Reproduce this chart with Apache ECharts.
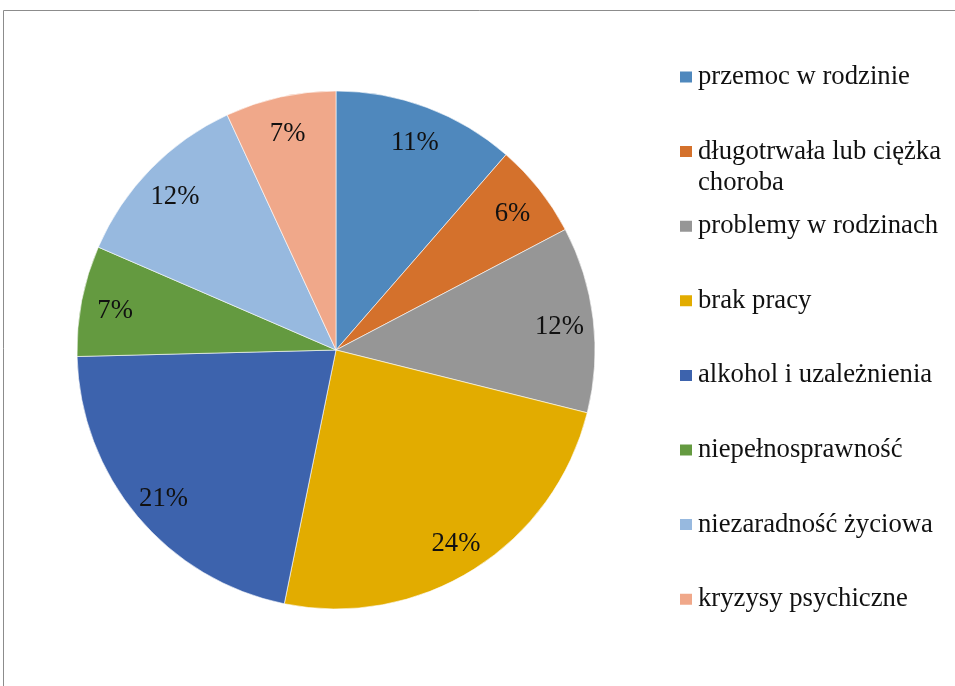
<!DOCTYPE html>
<html>
<head>
<meta charset="utf-8">
<script src="https://cdn.jsdelivr.net/npm/echarts@6/dist/echarts.min.js"></script>
<style>
html,body{margin:0;padding:0;background:#fff;}
#chart{width:955px;height:686px;}
</style>
</head>
<body>
<div id="chart"></div>
<script>
const categories = [
  'przemoc w rodzinie',
  'długotrwała lub ciężka\nchoroba',
  'problemy w rodzinach',
  'brak pracy',
  'alkohol i uzależnienia',
  'niepełnosprawność',
  'niezaradność życiowa',
  'kryzysy psychiczne'
];
const values = [11.4, 5.9, 11.6, 24.3, 21.4, 6.9, 11.6, 6.9];
const colors = ['#4F88BD', '#D4712C', '#969696', '#E2AC00', '#3D63AD', '#649A40', '#97B9DF', '#F0A88A'];

const FONT = "'Liberation Serif', 'Times New Roman', serif";
const legendCenters = [77, 151.6, 226.2, 300.8, 375.4, 450, 524.6, 599.2];

const data = categories.map((c, i) => ({ name: c, value: values[i], itemStyle: { color: colors[i] } }));

const legends = categories.map((c, i) => {
  const twoLine = c.indexOf('\n') >= 0;
  return {
    orient: 'vertical',
    left: 678,
    top: twoLine ? legendCenters[i] - 46.5 : legendCenters[i] - 15.5,
    padding: 0,
    icon: 'rect',
    itemWidth: 14,
    itemHeight: 13,
    itemGap: 0,
    selectedMode: false,
    data: [c],
    formatter: name => (name.indexOf('\n') >= 0 ? ' \n' + name : name),
    textStyle: {
      fontFamily: FONT,
      fontSize: 26.7,
      lineHeight: 31,
      color: '#111'
    }
  };
});

const chart = echarts.init(document.getElementById('chart'), null, { renderer: 'canvas' });
chart.setOption({
  backgroundColor: '#fff',
  animation: false,
  color: colors,
  legend: legends,
  graphic: [{
    type: 'polyline',
    silent: true,
    shape: { points: [[3.5, 686], [3.5, 10.5], [955, 10.5]] },
    style: { stroke: '#8c8c8c', lineWidth: 1, fill: null }
  }],
  series: [
    {
      type: 'pie',
      center: [336, 350],
      radius: [0, 259],
      startAngle: 90,
      clockwise: true,
      silent: true,
      label: { show: false },
      labelLine: { show: false },
      itemStyle: { borderColor: '#ffffff', borderWidth: 0.6 },
      data: data
    },
    {
      type: 'pie',
      center: [336, 350],
      radius: [185, 259],
      startAngle: 90,
      clockwise: true,
      silent: true,
      itemStyle: { color: 'rgba(0,0,0,0)', borderWidth: 0 },
      label: {
        show: true,
        position: 'inside',
        offset: [0, 4],
        fontFamily: FONT,
        fontSize: 26.7,
        color: '#111',
        formatter: p => Math.round(p.percent) + '%'
      },
      labelLine: { show: false },
      data: categories.map((c, i) => ({ name: c, value: values[i] }))
    }
  ]
});
</script>
</body>
</html>
